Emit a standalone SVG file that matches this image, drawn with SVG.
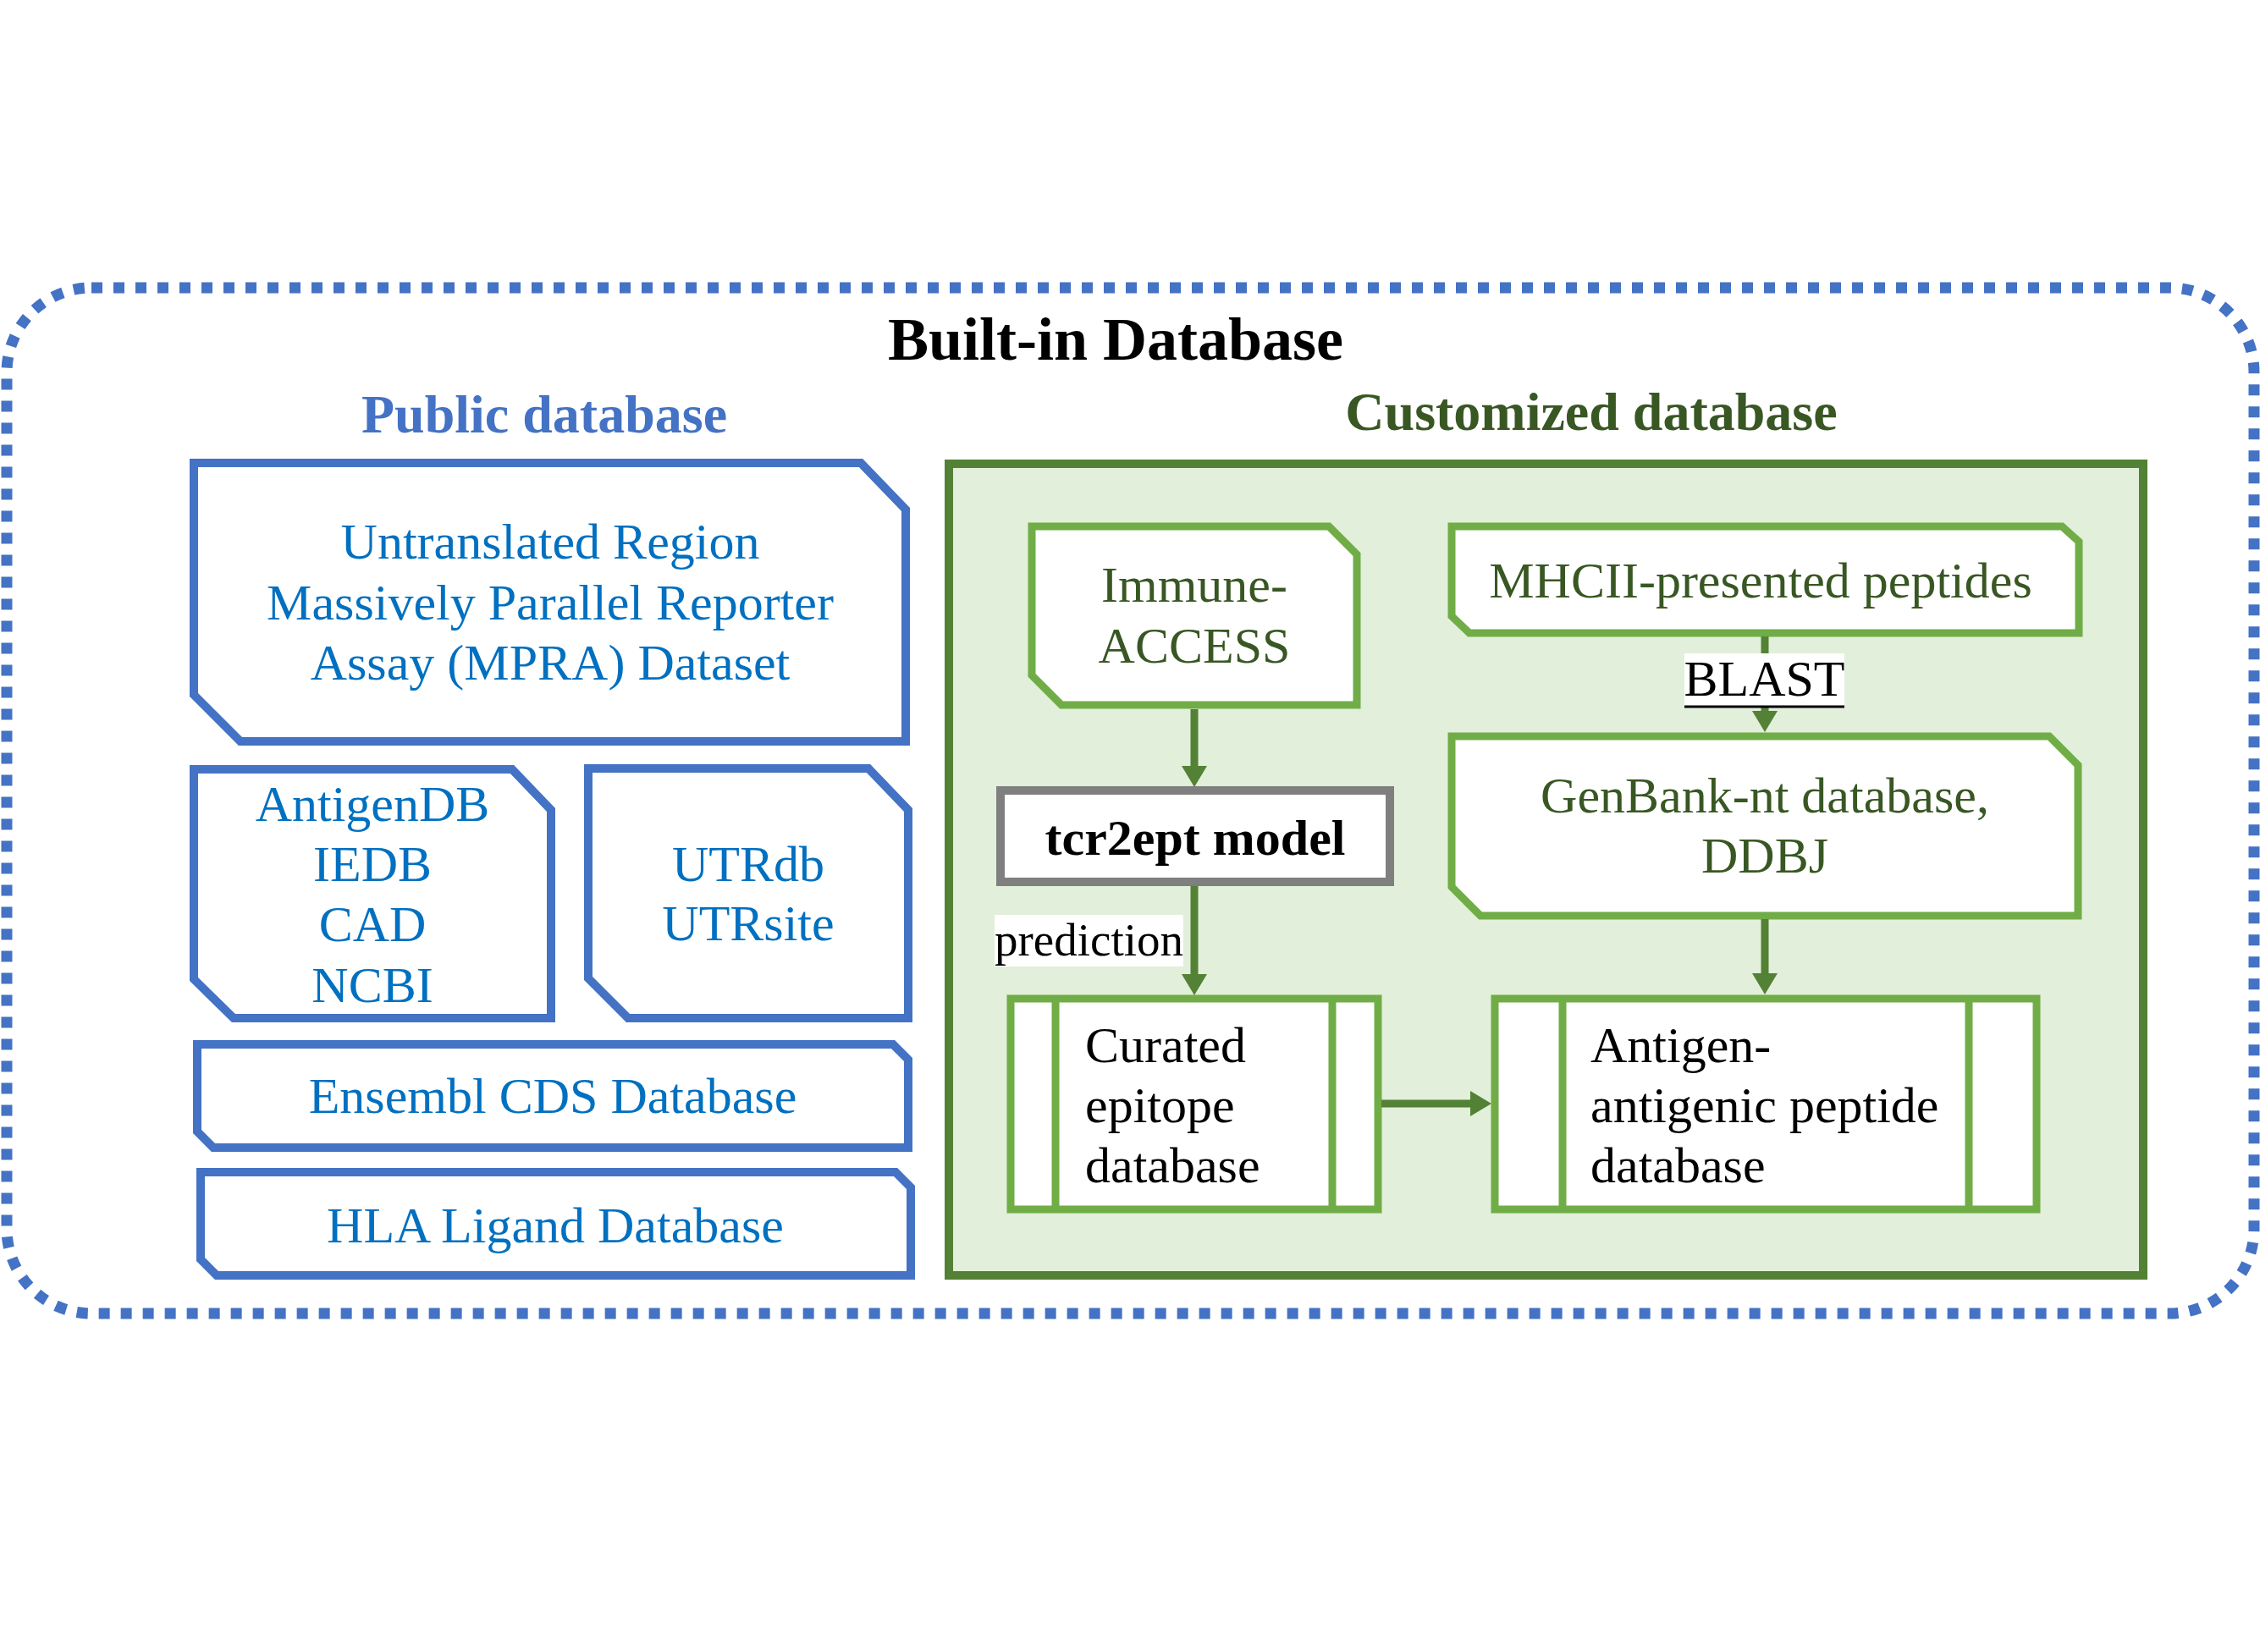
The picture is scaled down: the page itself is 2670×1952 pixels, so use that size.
<svg xmlns="http://www.w3.org/2000/svg" width="2670" height="1952" viewBox="0 0 2670 1952">
<defs>
<style>
.t{font-family:"Liberation Serif","Times New Roman",serif;}
.title{font-size:72px;font-weight:bold;fill:#000;}
.sec{font-size:64px;font-weight:bold;}
.blue{font-size:60px;fill:#0070C0;}
.gtxt{font-size:60px;fill:#385723;}
.btxt{font-size:60px;fill:#000;}
.pub{fill:#fff;stroke:#4472C4;stroke-width:10;stroke-linejoin:miter;}
.cust{fill:#fff;stroke:#70AD47;stroke-width:9;stroke-linejoin:miter;}
.conn{stroke:#538135;stroke-width:9;fill:none;}
</style>
<marker id="ah" viewBox="0 0 25 30" markerWidth="25" markerHeight="30" refX="0" refY="15" orient="auto" markerUnits="userSpaceOnUse">
<path d="M0,0 L25,15 L0,30 Z" fill="#538135"/>
</marker>
</defs>
<rect width="2670" height="1952" fill="#fff"/>
<g id="built-in-frame">
<rect x="8" y="340" width="2655" height="1212" rx="100" ry="100" fill="none" stroke="#4472C4" stroke-width="13" stroke-dasharray="13 13"/>
<text class="t title" x="1318" y="425" text-anchor="middle">Built-in Database</text>
</g>
<g id="public-title"><text class="t sec" x="643" y="511" text-anchor="middle" fill="#4472C4">Public database</text></g>
<g id="custom-frame">
<text class="t sec" x="1880" y="508" text-anchor="middle" fill="#385723">Customized database</text>
<rect x="1121" y="548" width="1411" height="959" fill="#E2EFDA" stroke="#538135" stroke-width="10"/>
</g>
<g id="utr-mpra">
<polygon class="pub" points="229,547 1017,547 1070,602 1070,876 284,876 229,821"/>
<text class="t blue" text-anchor="middle" x="650"><tspan x="650" y="660">Untranslated Region</tspan><tspan x="650" y="732">Massively Parallel Reporter</tspan><tspan x="650" y="803">Assay (MPRA) Dataset</tspan></text>
</g>
<g id="antigendb">
<polygon class="pub" points="229,909 605,909 651,957 651,1203 276,1203 229,1157"/>
<text class="t blue" text-anchor="middle"><tspan x="440" y="970">AntigenDB</tspan><tspan x="440" y="1041">IEDB</tspan><tspan x="440" y="1112">CAD</tspan><tspan x="440" y="1184">NCBI</tspan></text>
</g>
<g id="utrdb">
<polygon class="pub" points="695,908 1026,908 1073,957 1073,1203 742,1203 695,1156"/>
<text class="t blue" text-anchor="middle"><tspan x="884" y="1041">UTRdb</tspan><tspan x="884" y="1111">UTRsite</tspan></text>
</g>
<g id="ensembl">
<polygon class="pub" points="233,1234 1055,1234 1073,1252 1073,1356 252,1356 233,1337"/>
<text class="t blue" text-anchor="middle" x="653" y="1315">Ensembl CDS Database</text>
</g>
<g id="hla">
<polygon class="pub" points="237,1385 1058,1385 1076,1403 1076,1507 256,1507 237,1488"/>
<text class="t blue" text-anchor="middle" x="656" y="1468">HLA Ligand Database</text>
</g>
<g id="immuneaccess">
<polygon class="cust" points="1219,622 1570,622 1603,655 1603,833 1254,833 1219,798"/>
<text class="t gtxt" text-anchor="middle"><tspan x="1411" y="711">Immune-</tspan><tspan x="1411" y="783">ACCESS</tspan></text>
</g>
<g id="mhcii">
<polygon class="cust" points="1715,622 2436,622 2456,640 2456,748 1736,748 1715,728"/>
<text class="t gtxt" text-anchor="middle" x="2080" y="706">MHCII-presented peptides</text>
</g>
<g id="genbank">
<polygon class="cust" points="1715,870 2421,870 2455,904 2455,1082 1749,1082 1715,1048"/>
<text class="t gtxt" text-anchor="middle"><tspan x="2085" y="960">GenBank-nt database,</tspan><tspan x="2085" y="1031">DDBJ</tspan></text>
</g>
<g id="tcr2ept">
<rect x="1182" y="934" width="460" height="108" fill="#fff" stroke="#7F7F7F" stroke-width="10"/>
<text class="t btxt" font-weight="bold" text-anchor="middle" x="1412" y="1010">tcr2ept model</text>
</g>
<g id="curated">
<rect class="cust" x="1194" y="1180" width="434" height="249"/>
<line x1="1247" y1="1180" x2="1247" y2="1429" stroke="#70AD47" stroke-width="9"/>
<line x1="1574" y1="1180" x2="1574" y2="1429" stroke="#70AD47" stroke-width="9"/>
<text class="t btxt"><tspan x="1282" y="1255">Curated</tspan><tspan x="1282" y="1326">epitope</tspan><tspan x="1282" y="1397">database</tspan></text>
</g>
<g id="antigen-peptide">
<rect class="cust" x="1766" y="1180" width="640" height="249"/>
<line x1="1846" y1="1180" x2="1846" y2="1429" stroke="#70AD47" stroke-width="9"/>
<line x1="2326" y1="1180" x2="2326" y2="1429" stroke="#70AD47" stroke-width="9"/>
<text class="t btxt"><tspan x="1879" y="1255">Antigen-</tspan><tspan x="1879" y="1326">antigenic peptide</tspan><tspan x="1879" y="1397">database</tspan></text>
</g>
<g id="connectors">
<path class="conn" d="M1411,838 L1411,905" marker-end="url(#ah)"/>
<path class="conn" d="M1411,1047 L1411,1151" marker-end="url(#ah)"/>
<path class="conn" d="M2085,752 L2085,840" marker-end="url(#ah)"/>
<path class="conn" d="M2085,1086 L2085,1150" marker-end="url(#ah)"/>
<path class="conn" d="M1632,1304 L1737,1304" marker-end="url(#ah)"/>
<rect x="1175" y="1081" width="223" height="61" fill="#fff"/>
<text class="t" font-size="55" fill="#000" x="1175" y="1129">prediction</text>
<rect x="1990" y="772" width="189" height="64" fill="#fff"/>
<text class="t btxt" text-anchor="middle" x="2084.5" y="822">BLAST</text>
<line x1="1990" y1="835" x2="2179" y2="835" stroke="#000" stroke-width="3"/>
</g>
</svg>
